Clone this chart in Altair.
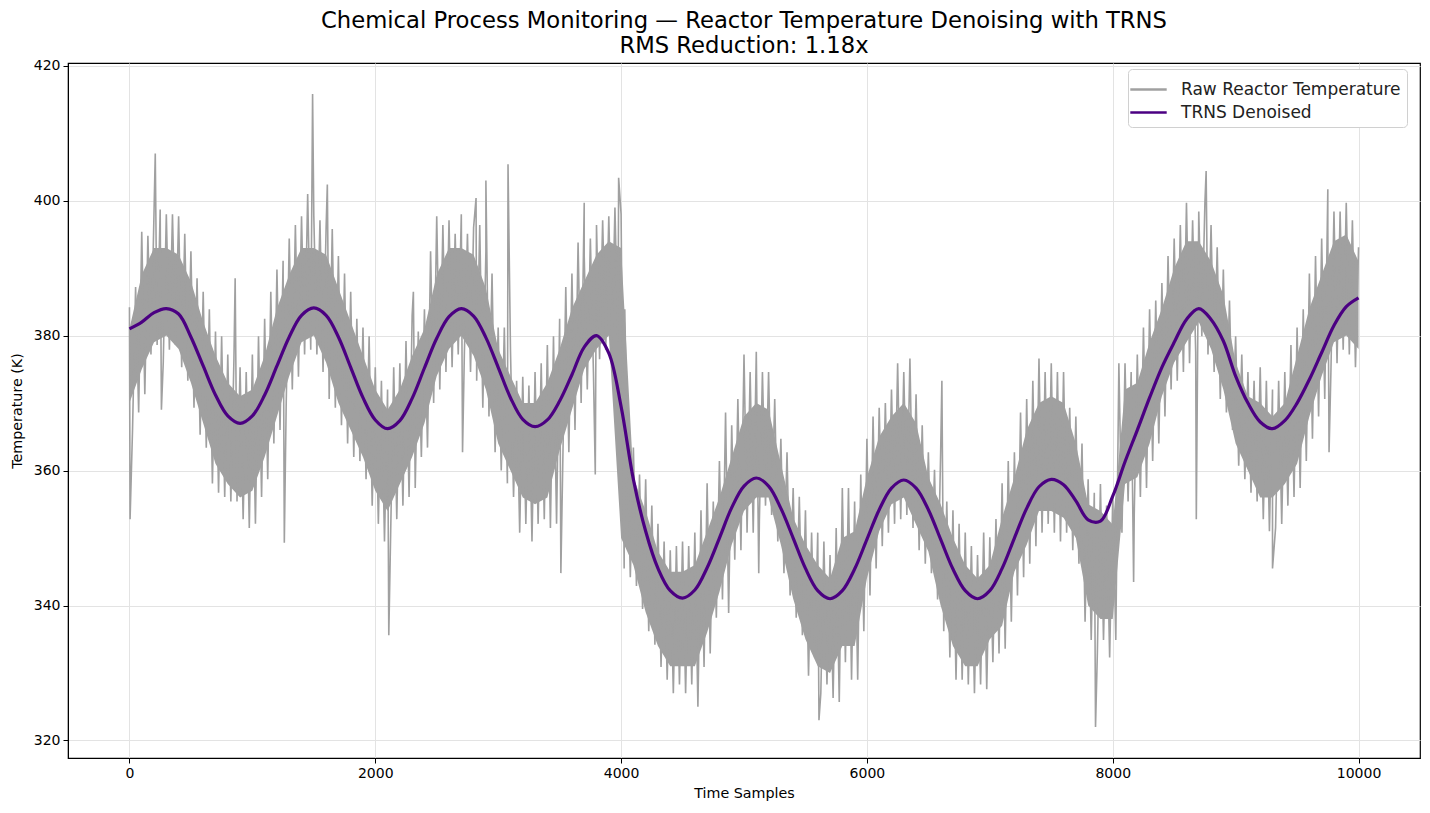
import altair as alt
import pandas as pd

STEP = 50

# outer upper edge of the raw band, read every 50 samples (t = 0, 50, ..., 10000)
raw_hi = [
    384.2, 387.2, 395.4, 394.8, 398.4, 398.7, 398.0, 398.0, 397.7, 395.1,
    392.5, 388.5, 386.5, 383.9, 380.6, 379.9, 377.2, 376.5, 375.3, 374.6,
    377.2, 379.9, 382.5, 386.5, 389.8, 391.1, 394.4, 396.4, 397.7, 401.0,
    397.7, 397.1, 396.0, 395.8, 391.8, 389.2, 386.5, 382.5, 381.2, 379.9,
    375.3, 373.3, 372.0, 375.3, 375.9, 379.2, 383.0, 380.6, 383.9, 392.5,
    397.7, 396.4, 397.1, 395.1, 398.0, 395.1, 396.0, 396.4, 392.5, 389.2,
    381.2, 381.2, 377.9, 373.3, 373.9, 372.6, 374.6, 375.9, 378.6, 379.9,
    382.5, 387.2, 389.2, 393.8, 391.8, 394.4, 396.4, 397.1, 397.7, 399.0,
    398.0, 364.0, 363.4, 359.4, 358.7, 354.8, 352.1, 349.5, 348.2, 348.8,
    349.5, 348.8, 350.8, 354.1, 358.1, 355.4, 361.4, 368.6, 366.7, 370.6,
    377.2, 374.6, 377.6, 374.6, 374.6, 370.6, 364.7, 362.7, 357.4, 356.1,
    354.1, 350.8, 350.8, 349.5, 347.5, 351.5, 357.4, 357.4, 355.4, 359.4,
    364.7, 368.0, 369.3, 370.0, 372.0, 375.9, 374.6, 376.6, 371.3, 366.7,
    362.7, 360.1, 362.7, 355.4, 354.1, 352.1, 350.8, 348.8, 347.5, 350.8,
    350.1, 352.8, 358.1, 361.4, 362.7, 368.6, 370.6, 373.3, 376.6, 374.6,
    375.9, 374.6, 374.6, 369.3, 368.0, 364.0, 358.7, 356.7, 358.0, 354.8,
    356.0, 375.9, 375.9, 374.6, 377.2, 381.2, 383.9, 385.2, 387.8, 391.8,
    394.4, 396.4, 399.7, 397.1, 398.4, 399.7, 396.4, 393.1, 389.8, 385.2,
    379.9, 377.2, 374.6, 373.3, 375.3, 373.3, 372.0, 373.3, 374.6, 378.6,
    381.2, 383.9, 389.2, 391.8, 394.4, 396.0, 398.4, 398.4, 399.7, 397.1,
    393.1,
]

# outer lower edge of the raw band, read between them (t = 25, 75, ..., 9975)
raw_lo = [
    366.0, 368.6, 371.3, 377.2, 378.6, 376.0, 377.9, 378.6, 375.3, 373.3,
    369.3, 365.3, 363.4, 358.1, 356.7, 356.1, 355.4, 355.4, 352.8, 351.5,
    352.1, 356.1, 358.7, 364.0, 366.0, 369.5, 372.0, 373.9, 377.2, 377.9,
    377.2, 374.6, 370.6, 369.3, 366.7, 364.0, 362.0, 361.4, 358.7, 354.8,
    352.1, 349.5, 350.5, 352.8, 354.8, 356.1, 357.4, 362.0, 363.4, 370.0,
    372.0, 374.6, 375.3, 377.2, 377.5, 374.6, 373.3, 369.3, 368.0, 362.7,
    360.0, 358.1, 356.1, 350.8, 352.1, 349.5, 352.1, 352.8, 351.5, 352.1,
    360.5, 362.7, 366.0, 370.0, 372.0, 374.6, 376.5, 377.9, 377.9, 378.6,
    345.5, 344.2, 342.9, 339.5, 336.2, 334.2, 330.9, 329.0, 327.0, 328.3,
    327.0, 328.3, 325.0, 330.9, 332.9, 338.2, 340.9, 338.9, 346.8, 348.2,
    350.8, 350.8, 352.5, 354.8, 353.4, 349.5, 344.8, 341.5, 338.2, 335.6,
    329.6, 332.3, 327.0, 328.3, 326.3, 325.7, 331.6, 329.0, 329.0, 336.2,
    341.5, 345.5, 348.8, 350.8, 352.1, 352.8, 353.4, 351.5, 348.2, 346.2,
    344.8, 340.9, 336.2, 332.3, 329.0, 329.0, 328.3, 327.0, 328.3, 327.6,
    331.6, 332.9, 333.6, 337.6, 341.5, 344.2, 346.2, 348.8, 350.8, 352.1,
    350.8, 349.5, 350.8, 348.2, 346.2, 337.6, 334.9, 333.0, 334.9, 332.3,
    334.9, 350.8, 355.4, 353.5, 356.1, 357.4, 361.4, 364.0, 368.0, 372.0,
    373.3, 374.6, 375.9, 377.5, 379.9, 377.2, 374.6, 370.6, 368.6, 366.0,
    360.7, 358.7, 356.7, 355.4, 352.8, 351.0, 351.5, 352.1, 354.8, 356.1,
    357.4, 361.4, 364.7, 368.0, 370.6, 374.5, 375.9, 377.9, 377.2, 375.3,
]

# isolated spikes of the raw signal (sample index, value)
spike_t = [5, 210, 260, 860, 1260, 1490, 1610, 2110, 2310, 2710, 2820, 2900,
           3080, 3510, 3700, 3790, 3980, 4030, 5120, 5610, 6610, 7860, 8170,
           8680, 8760, 9300, 9750, 9760]
spike_v = [352.8, 407.0, 369.0, 388.5, 349.3, 415.8, 402.4, 335.6, 386.5, 362.7,
           400.4, 403.0, 405.4, 344.8, 399.7, 359.4, 403.4, 383.9, 344.8, 323.0,
           373.3, 322.0, 343.5, 352.8, 404.4, 345.5, 401.7, 362.7]

# dense (solid) core of the raw band, read every 100 samples (t = 0 .. 10000)
CORE_STEP = 100
core_hi = [
    381, 389, 393, 393, 392, 388, 382, 377, 373, 371,
    372, 377, 384, 389, 393, 393, 392, 387, 382, 377,
    372, 369, 372, 377, 381, 389, 393, 393, 392, 387,
    378, 374, 370, 370, 373, 378, 384, 388, 392, 394,
    393, 359, 354, 348, 345, 345, 346, 351, 356, 362,
    368, 370, 369, 361, 353, 349, 346, 344, 350, 351,
    359, 365, 368, 370, 367, 359, 355, 350, 346, 344,
    346, 353, 359, 366, 370, 371, 370, 364, 355, 354,
    352, 372, 373, 379, 384, 390, 394, 394, 391, 386,
    376, 371, 370, 368, 370, 377, 384, 389, 394, 395,
    391,
]
core_lo = [
    370, 375, 379, 380, 378, 373, 367, 361, 358, 356,
    357, 362, 368, 374, 379, 380, 376, 370, 366, 362,
    357, 354, 358, 362, 367, 374, 378, 380, 377, 372,
    364, 360, 356, 355, 356, 363, 369, 375, 378, 380,
    350, 346, 339, 334, 331, 331, 331, 336, 342, 349,
    354, 356, 356, 349, 341, 335, 331, 330, 334, 334,
    344, 351, 355, 356, 352, 348, 340, 334, 331, 331,
    335, 337, 345, 349, 354, 354, 353, 350, 340, 338,
    338, 358, 359, 364, 371, 376, 379, 382, 378, 372,
    364, 360, 356, 356, 358, 361, 368, 374, 379, 380,
    378,
]

# TRNS denoised curve, read every 100 samples (t = 0 .. 10000)
DEN_STEP = 100
denoised = [
    381.0, 382.0, 383.4, 384.0, 383.2, 379.8, 375.5, 371.2, 368.1, 367.0,
    368.1, 371.2, 375.5, 379.8, 383.0, 384.1, 383.0, 379.8, 375.3, 370.8,
    367.5, 366.2, 367.4, 370.7, 375.2, 379.6, 382.8, 384.0, 382.9, 379.7,
    375.3, 370.8, 367.6, 366.5, 367.5, 370.3, 374.2, 378.3, 380.0, 377.4,
    369.5, 358.7, 351.0, 345.5, 342.2, 341.1, 342.3, 345.6, 350.0, 354.5,
    357.7, 358.9, 357.7, 354.4, 350.0, 345.5, 342.2, 341.0, 342.2, 345.4,
    349.8, 354.2, 357.4, 358.6, 357.4, 354.2, 349.8, 345.4, 342.2, 341.0,
    342.2, 345.5, 350.0, 354.4, 357.6, 358.7, 357.9, 355.5, 352.7, 352.5,
    356.2, 361.3, 366.0, 370.8, 375.3, 379.0, 382.4, 384.0, 382.4, 379.2,
    374.0, 370.0, 367.2, 366.2, 367.4, 370.0, 373.5, 377.5, 381.5, 384.3,
    385.6,
]

series_names = ["Raw Reactor Temperature", "TRNS Denoised"]
series_colors = ["#a0a0a0", "#4b0082"]
x_ticks = [0, 2000, 4000, 6000, 8000, 10000]
y_ticks = [320, 340, 360, 380, 400, 420]

# raw line: alternating upper/lower readings plus the spikes, in sample order
rows = []
for i, v in enumerate(raw_hi):
    rows.append({"t": i * STEP, "temp": v})
    if i < len(raw_lo):
        rows.append({"t": i * STEP + STEP // 2, "temp": raw_lo[i]})
for t, v in zip(spike_t, spike_v):
    rows.append({"t": t, "temp": v})
raw_df = pd.DataFrame(rows).sort_values("t").reset_index(drop=True)
raw_df["series"] = series_names[0]

core_df = pd.DataFrame({
    "t": [i * CORE_STEP for i in range(len(core_hi))],
    "hi": core_hi,
    "lo": core_lo,
})

den_df = pd.DataFrame({"t": [i * DEN_STEP for i in range(len(denoised))], "temp": denoised})
den_df["series"] = series_names[1]

FONT = "DejaVu Sans"

x_scale = alt.Scale(domain=[-500, 10500], nice=False, zero=False)
y_scale = alt.Scale(domain=[317.4, 420.4], nice=False, zero=False)

x_enc = alt.X(
    "t:Q",
    title="Time Samples",
    scale=x_scale,
    axis=alt.Axis(values=x_ticks, format="d"),
)
y_enc = alt.Y(
    "temp:Q",
    title="Temperature (K)",
    scale=y_scale,
    axis=alt.Axis(values=y_ticks, format="d"),
)
color_enc = alt.Color(
    "series:N",
    scale=alt.Scale(domain=series_names, range=series_colors),
    legend=alt.Legend(
        title=None,
        orient="none",
        legendX=1060,
        legendY=6,
        symbolType="M-1.4,0H1.4",
        symbolStrokeWidth=2.5,
        symbolSize=676,
        labelFontSize=17,
        labelFont=FONT,
        labelColor="#222222",
        labelLimit=0,
        rowPadding=0,
        padding=6,
        fillColor="white",
        strokeColor="#d0d0d0",
        cornerRadius=4,
        labelOffset=18,
    ),
)

core = alt.Chart(core_df).mark_area(color="#a0a0a0", opacity=1).encode(
    x=alt.X("t:Q", scale=x_scale, title="Time Samples"),
    y=alt.Y("hi:Q", scale=y_scale, title="Temperature (K)"),
    y2="lo:Q",
)
raw_line = alt.Chart(raw_df).mark_line(strokeWidth=1.6).encode(
    x=x_enc, y=y_enc, color=color_enc
)
den_line = alt.Chart(den_df).mark_line(strokeWidth=3.2, interpolate="catmull-rom").encode(
    x=x_enc, y=y_enc, color=color_enc
)

chart = (
    alt.layer(core, raw_line, den_line)
    .properties(
        width=1352,
        height=695,
        autosize=alt.AutoSizeParams(type="none"),
        padding={"left": 60, "top": 55, "right": 2, "bottom": 46},
        title=alt.TitleParams(
            text=[
                "Chemical Process Monitoring \u2014 Reactor Temperature Denoising with TRNS",
                "RMS Reduction: 1.18x",
            ],
            font=FONT,
            fontSize=22.7,
            fontWeight="normal",
            color="black",
            anchor="middle",
            offset=1,
            lineHeight=25,
        ),
    )
    .configure_view(stroke="black", strokeWidth=1.2)
    .configure_axis(
        labelFont=FONT,
        titleFont=FONT,
        labelFontSize=14,
        titleFontSize=14.3,
        titleFontWeight="normal",
        labelColor="black",
        titleColor="black",
        grid=True,
        gridColor="#e3e3e3",
        gridWidth=1,
        domainColor="black",
        tickColor="black",
        tickSize=5,
        labelPadding=3,
    )
    .configure_axisX(titlePadding=6)
    .configure_axisY(titlePadding=9)
)

chart.save("out.html", embed_options={"renderer": "svg", "actions": False})
